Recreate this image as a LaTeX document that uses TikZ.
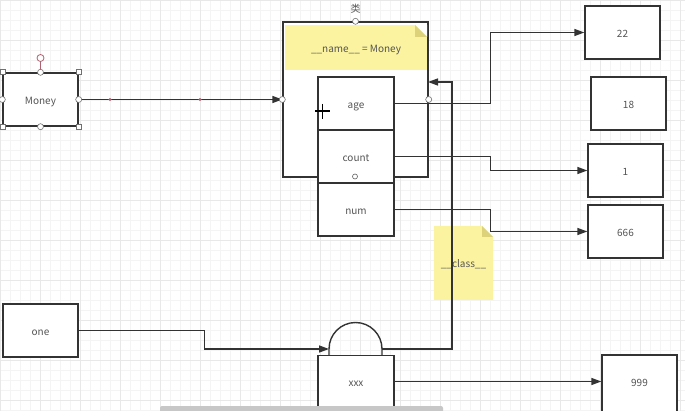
\documentclass[tikz,border=0pt]{standalone}
\usepackage{fontspec}
\setmainfont{Noto Sans CJK SC}
\usetikzlibrary{arrows.meta,calc}
\definecolor{ln}{HTML}{333333}
\definecolor{tx}{HTML}{555555}
\definecolor{note}{HTML}{FBF3A0}
\definecolor{fold}{HTML}{DDD27A}
\definecolor{gridmin}{HTML}{F4F4F4}
\definecolor{gridmaj}{HTML}{E8E8E8}
\definecolor{handle}{HTML}{B06070}
\tikzset{
  lowtext/.style={text height=10pt, text depth=0pt},
  box/.style={draw=ln, line width=1.4pt, fill=white, minimum width=75pt, minimum height=53pt, inner sep=0pt, font=\fontsize{10}{12}\selectfont, text=tx, lowtext},
  notebox/.style={fill=note, inner sep=0pt, font=\fontsize{10}{12}\selectfont, text=tx, lowtext},
  conn/.style={draw=ln, line width=1.4pt, -{Triangle[length=10pt,width=7pt]}},
  plain/.style={draw=ln, line width=1.4pt},
  hcirc/.style={circle, draw=ln!70, fill=white, line width=0.6pt, minimum size=6pt, inner sep=0pt},
  hsq/.style={rectangle, draw=ln!70, fill=white, line width=0.6pt, minimum size=5pt, inner sep=0pt},
  lbl/.style={inner sep=0pt, font=\fontsize{10}{12}\selectfont, text=tx}
}
\begin{document}
\begin{tikzpicture}[x=1pt,y=-1pt]
\useasboundingbox (0,0) rectangle (685,411);
\clip (0,0) rectangle (685,411);
\fill[white] (0,0) rectangle (685,411);
% grid
\foreach \i in {0,10,...,680} {\draw[gridmin,line width=0.5pt] (\i,0) -- (\i,411);}
\foreach \j in {0,10,...,410} {\draw[gridmin,line width=0.5pt] (0,\j) -- (685,\j);}
\foreach \i in {0,40,...,680} {\draw[gridmaj,line width=0.6pt] (\i,0) -- (\i,411);}
\foreach \j in {0,40,...,410} {\draw[gridmaj,line width=0.6pt] (0,\j) -- (685,\j);}

% class outer box
\node[box, minimum width=145pt, minimum height=155pt] (cls) at (355.5,99.5) {};
\node[lbl, anchor=south] (clslbl) at (355.5,13.5) {类};
% name note
\node[notebox, minimum width=142pt, minimum height=45pt] (namenote) at (356,47.5) {\_\_name\_\_ = Money};
\fill[fold] (namenote.north east) ++(-12,0) -- ++(12,12) -- ++(-12,0) -- cycle;
\fill[white] (namenote.north east) ++(-12,0) -- ++(12,0) -- ++(0,12) -- cycle;

% inner boxes
\node[box, minimum width=76pt] (age) at (356,103.5) {age};
\node[box, minimum width=76pt] (count) at (356,156.5) {count};
\node[box, minimum width=76pt] (num) at (356,209.5) {num};

% value boxes
\node[box] (v22) at (622.5,32.5) {22};
\node[box] (v18) at (628.5,103.5) {18};
\node[box] (v1) at (625.5,170.5) {1};
\node[box] (v666) at (625.5,231.5) {666};

% class note
\node[notebox, minimum width=59pt, minimum height=74pt] (classnote) at (463.5,263) {\_\_class\_\_};
\fill[fold] (classnote.north east) ++(-11,0) -- ++(11,11) -- ++(-11,0) -- cycle;
\fill[white] (classnote.north east) ++(-11,0) -- ++(11,0) -- ++(0,11) -- cycle;

% Money
\node[box] (money) at (40.5,99.5) {Money};
\node[box] (one) at (40.5,330.5) {one};

% xxx and 999
\node[box, minimum width=76pt, minimum height=52pt] (xxx) at (356,381.5) {xxx};
\node[box, minimum height=62pt] (v999) at (639.5,386) {};
\node[lbl, lowtext] (v999lbl) at (639.5,381.5) {999};

% half circle
\coordinate (hW) at (329,349);
\coordinate (hE) at (382,349);
\draw[plain] (329,355.5) -- (hW) arc[start angle=180, end angle=360, radius=26.5] -- (382,355.5);

% connectors
\draw[conn] (money.east) -- (cls.west);
\draw[conn] (age.east) -- ++(96,0) |- (v22.west);
\draw[conn] (count.east) -- ++(96,0) |- (v1.west);
\draw[conn] (num.east) -- ++(96,0) |- (v666.west);
\draw[conn] (one.east) -- ++(126,0) |- (hW);
\coordinate (clsin) at (428,82);
\draw[conn] (hE) -- ++(70,0) |- (clsin);
\draw[conn] (xxx.east) -- (v999.west |- xxx.east);

% editor handles on Money
\draw[handle, line width=0.8pt] (money.north) -- (40.5,62);
\node[circle, draw=handle, fill=white, line width=0.8pt, minimum size=7pt, inner sep=0pt] (rot) at (40.5,58) {};
\foreach \a in {north west,north east,south west,south east} {\node[hsq] at (money.\a) {};}
\foreach \a in {north,south,east,west} {\node[hcirc] at (money.\a) {};}
\fill[handle] (110,99.5) circle (1.6);
\fill[handle] (200,99.5) circle (1.6);
% handles on class box
\node[hcirc] (h1) at (cls.north) {};
\node[hcirc] (h2) at (cls.west) {};
\node[hcirc] (h3) at (cls.east) {};
\node[circle, draw=ln!80, line width=0.6pt, minimum size=5pt, inner sep=0pt] (h4) at (355,176.5) {};
% cursor
\draw[black, line width=1.5pt] (315,111) -- (330,111) (322.5,104) -- (322.5,119);
% scrollbar
\fill[black!22, rounded corners=2pt] (160,406) rectangle (443,414);
\end{tikzpicture}
\end{document}
